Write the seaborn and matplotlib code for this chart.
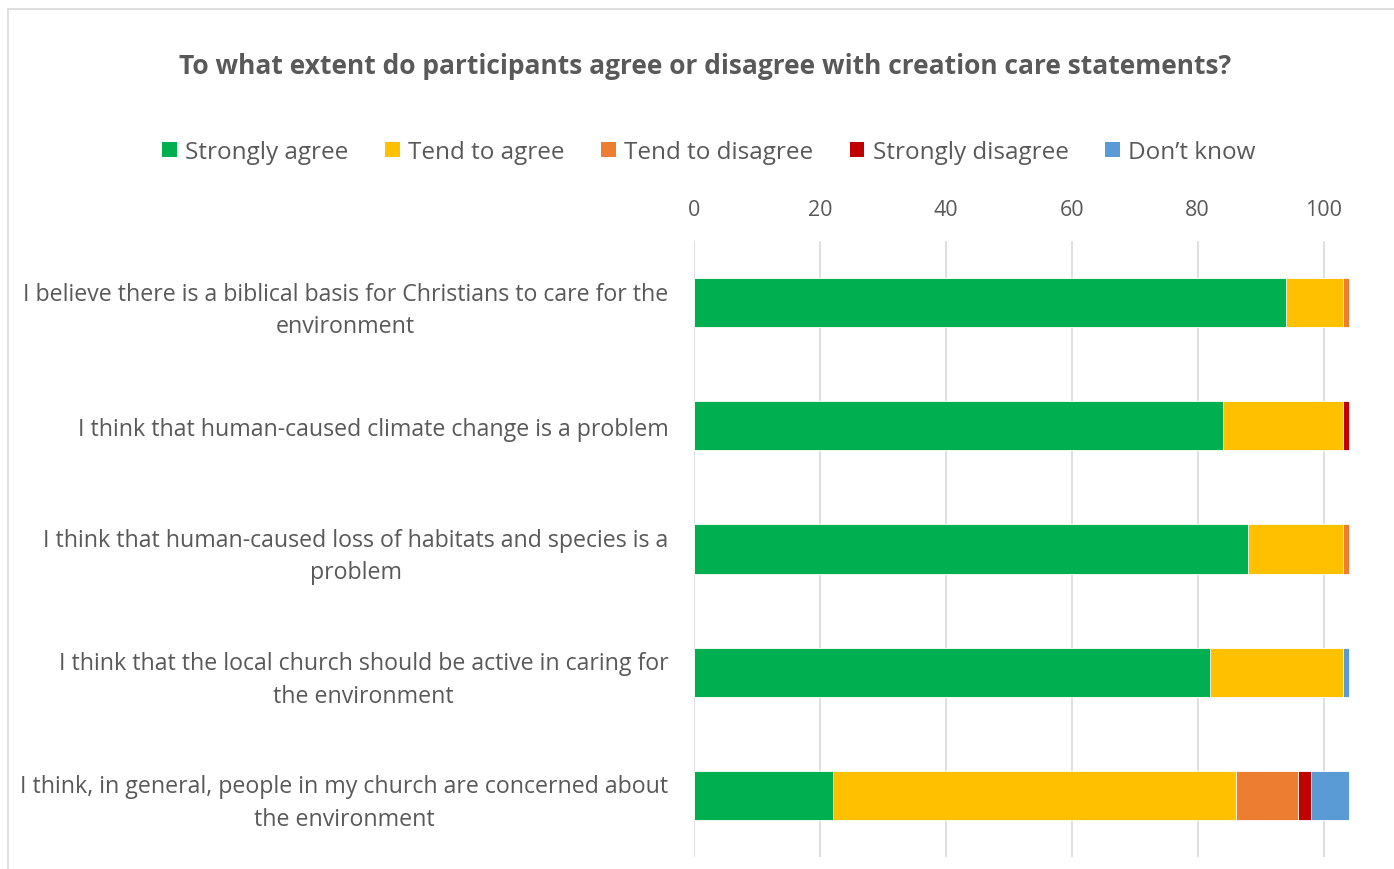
import numpy as np
import pandas as pd
import matplotlib
matplotlib.use("Agg")
import matplotlib.pyplot as plt
from matplotlib.patches import Patch, Rectangle
import seaborn as sns

statements = [
    "I believe there is a biblical basis for Christians to care for the\nenvironment",
    "I think that human-caused climate change is a problem",
    "I think that human-caused loss of habitats and species is a\nproblem",
    "I think that the local church should be active in caring for\nthe environment",
    "I think, in general, people in my church are concerned about\nthe environment",
]
responses = ["Strongly agree", "Tend to agree", "Tend to disagree",
             "Strongly disagree", "Don\u2019t know"]
strongly_agree = [94, 84, 88, 82, 22]
tend_agree = [9, 19, 15, 21, 64]
tend_disagree = [1, 0, 1, 0, 10]
strongly_disagree = [0, 1, 0, 0, 2]
dont_know = [0, 0, 0, 1, 6]
colors = ["#00B050", "#FFC000", "#ED7D31", "#C00000", "#5B9BD5"]
xticks = [0, 20, 40, 60, 80, 100]

sns.set_theme(style="white")
plt.rcParams["font.family"] = ["Open Sans", "DejaVu Sans"]
text_color = "#595959"

series = [strongly_agree, tend_agree, tend_disagree, strongly_disagree, dont_know]
cum = np.cumsum(np.array(series, dtype=float), axis=0)

fig = plt.figure(figsize=(13.94, 8.7), dpi=100)
ax = fig.add_axes([694 / 1394, 1 - 858 / 870, (1352 - 694) / 1394, (858 - 242) / 870])

# stacked bars: draw cumulative totals from the outermost segment inward
for i in range(len(responses) - 1, -1, -1):
    df = pd.DataFrame({"statement": statements, "value": cum[i]})
    sns.barplot(data=df, y="statement", x="value", orient="h", color=colors[i],
                width=0.4, saturation=1, ax=ax, edgecolor="white", linewidth=0.6)

ax.set_xlim(0, 104.5)
ax.set_ylim(4.5, -0.5)
ax.set_xticks(xticks)
ax.xaxis.tick_top()
ax.tick_params(axis="x", length=0, pad=15, labelsize=15.5, colors=text_color)
ax.tick_params(axis="y", length=0, pad=18.5, labelsize=16.7, colors=text_color)
for lbl in ax.get_yticklabels():
    lbl.set_horizontalalignment("right")
    lbl.set_multialignment("center")
    lbl.set_linespacing(1.47)
ax.set_xlabel("")
ax.set_ylabel("")
ax.grid(axis="x", color="#D9D9D9", linewidth=1.2)
ax.set_axisbelow(True)
for s in ax.spines.values():
    s.set_visible(False)

fig.text(705 / 1394, 1 - 67 / 870, "To what extent do participants agree or disagree with creation care statements?",
         ha="center", va="center", fontsize=19, fontweight="bold", color=text_color)

handles = [Patch(facecolor=c, edgecolor="none") for c in colors]
fig.legend(handles, responses, loc="center", bbox_to_anchor=(709 / 1394, 1 - 153 / 870),
           ncol=5, frameon=False, fontsize=17.5, labelcolor=text_color,
           handlelength=0.6, handleheight=0.6, handletextpad=0.35, columnspacing=1.5)

fig.patches.append(Rectangle((8 / 1394, -0.1), 1.2, 1.1 - 10 / 870,
                             transform=fig.transFigure, fill=False,
                             edgecolor="#D9D9D9", linewidth=1.2))

fig.savefig("out.png", dpi=100, facecolor="white")
